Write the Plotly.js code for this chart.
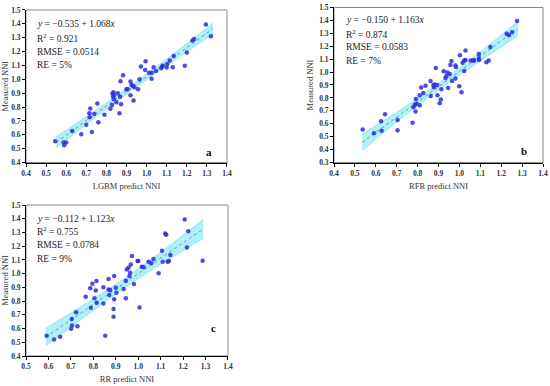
<!DOCTYPE html>
<html>
<head>
<meta charset="utf-8">
<script src="https://cdn.plot.ly/plotly-3.0.1.min.js"></script>
<style>
html,body{margin:0;padding:0;background:#fff;}
#chart{width:550px;height:386px;}
</style>
</head>
<body>
<div id="chart"></div>
<script>
// ---- Panel a (LGBM) ----
var aPredX = [0.545,0.587,0.590,0.600,0.630,0.675,0.700,0.715,0.720,0.717,0.728,0.740,0.755,0.760,0.790,0.820,0.830,0.833,0.835,0.828,0.837,0.838,0.857,0.865,0.850,0.868,0.873,0.870,0.883,0.900,0.905,0.920,0.920,0.925,0.932,0.940,0.935,0.958,0.965,0.972,0.995,0.993,1.012,1.025,1.025,1.035,1.047,1.073,1.078,1.080,1.100,1.103,1.115,1.130,1.135,1.190,1.200,1.228,1.237,1.295,1.320];
var aMeasY = [0.553,0.544,0.525,0.545,0.628,0.604,0.672,0.755,0.790,0.727,0.620,0.750,0.825,0.690,0.745,0.787,0.897,0.875,0.906,0.815,0.856,0.885,0.900,0.755,0.835,0.875,0.820,0.986,1.030,0.928,0.928,0.885,0.984,0.960,0.952,0.943,0.847,0.928,1.000,1.092,1.130,1.068,1.048,1.005,1.048,1.087,1.060,1.080,1.092,1.098,1.085,1.110,1.135,1.087,1.168,1.097,1.193,1.280,1.290,1.395,1.310];
var aLineX = [0.55,1.33];
var aLineY = [0.545,1.365];
var aBandX = [0.55,0.75,0.94,1.13,1.33];
var aBandLow = [0.505,0.730,0.935,1.130,1.325];
var aBandHigh = [0.585,0.780,0.975,1.180,1.405];
var aText = ['<i>y</i> = \u22120.535 + 1.068<i>x</i>','R<sup>2</sup> = 0.921','RMSE = 0.0514','RE = 5%'];

// ---- Panel b (RFR) ----
var bPredX = [0.537,0.591,0.625,0.628,0.644,0.704,0.704,0.776,0.780,0.787,0.792,0.790,0.795,0.810,0.817,0.810,0.827,0.838,0.862,0.863,0.875,0.878,0.882,0.887,0.894,0.895,0.911,0.906,0.914,0.925,0.933,0.938,0.943,0.946,0.954,0.957,0.962,0.965,0.981,0.981,0.984,0.999,1.002,1.010,1.015,1.023,1.023,1.029,1.029,1.054,1.066,1.070,1.093,1.093,1.094,1.129,1.140,1.148,1.226,1.237,1.252,1.276];
var bMeasY = [0.555,0.527,0.620,0.545,0.674,0.630,0.550,0.607,0.728,0.748,0.792,0.694,0.754,0.820,0.880,0.743,0.839,0.895,0.931,0.815,0.900,0.883,0.903,1.032,0.900,0.820,0.787,0.759,0.867,1.006,0.955,0.970,0.996,0.877,0.986,1.055,1.086,0.931,1.050,0.950,1.040,0.890,1.130,0.844,1.073,1.009,1.089,1.168,1.094,1.089,1.089,1.090,1.107,1.140,1.094,1.076,1.089,1.194,1.297,1.285,1.308,1.395];
var bLineX = [0.535,1.28];
var bLineY = [0.456,1.336];
var bBandX = [0.535,0.72,0.905,1.09,1.28];
var bBandLow = [0.391,0.640,0.868,1.076,1.281];
var bBandHigh = [0.521,0.710,0.918,1.146,1.391];
var bText = ['<i>y</i> = \u22120.150 + 1.163<i>x</i>','R<sup>2</sup> = 0.874','RMSE = 0.0583','RE = 7%'];

// ---- Panel c (RR) ----
var cPredX = [0.592,0.625,0.652,0.701,0.704,0.705,0.723,0.729,0.766,0.786,0.796,0.789,0.805,0.811,0.814,0.815,0.845,0.845,0.853,0.868,0.868,0.871,0.875,0.890,0.890,0.893,0.893,0.900,0.903,0.935,0.945,0.945,0.949,0.957,0.961,0.964,0.967,0.972,0.981,0.997,1.000,1.006,1.016,1.024,1.046,1.058,1.068,1.091,1.106,1.109,1.120,1.125,1.131,1.137,1.143,1.207,1.217,1.223,1.287];
var cMeasY = [0.548,0.521,0.541,0.599,0.669,0.623,0.718,0.616,0.832,0.893,0.927,0.752,0.820,0.878,0.946,0.788,0.783,0.900,0.548,0.961,0.885,0.844,0.881,0.742,0.686,0.813,0.982,0.898,0.861,0.888,0.949,0.820,1.031,1.043,0.982,1.007,1.067,1.128,0.924,1.092,1.092,0.754,1.050,1.046,1.087,1.075,1.106,1.002,1.167,1.087,1.293,1.283,1.087,1.092,1.135,1.395,1.191,1.308,1.094];
var cLineX = [0.588,1.29];
var cLineY = [0.537,1.326];
var cBandX = [0.588,0.765,0.94,1.115,1.29];
var cBandLow = [0.472,0.690,0.897,1.084,1.256];
var cBandHigh = [0.602,0.780,0.967,1.174,1.396];
var cText = ['<i>y</i> = \u22120.112 + 1.123<i>x</i>','R<sup>2</sup> = 0.755','RMSE = 0.0784','RE = 9%'];

var serif = 'Liberation Serif, Times New Roman, serif';
var bandFill = 'rgba(60,225,245,0.42)';
var bandEdge = 'rgba(40,200,230,0.6)';
var dotColor = 'rgba(45,45,225,0.85)';

function panelTraces(xa, ya, bx, blo, bhi, lx, ly, px, py){
  return [
    {x: bx, y: blo, xaxis: xa, yaxis: ya, mode: 'lines', line: {color: bandEdge, width: 0.6, shape: 'spline'}, hoverinfo: 'skip', showlegend: false},
    {x: bx, y: bhi, xaxis: xa, yaxis: ya, mode: 'lines', fill: 'tonexty', fillcolor: bandFill, line: {color: bandEdge, width: 0.6, shape: 'spline'}, hoverinfo: 'skip', showlegend: false},
    {x: lx, y: ly, xaxis: xa, yaxis: ya, mode: 'lines', line: {color: '#8a8a8a', width: 1, dash: 'dot'}, showlegend: false},
    {x: px, y: py, xaxis: xa, yaxis: ya, mode: 'markers', marker: {color: dotColor, size: 4.5}, showlegend: false}
  ];
}

var data = [].concat(
  panelTraces('x','y', aBandX, aBandLow, aBandHigh, aLineX, aLineY, aPredX, aMeasY),
  panelTraces('x2','y2', bBandX, bBandLow, bBandHigh, bLineX, bLineY, bPredX, bMeasY),
  panelTraces('x3','y3', cBandX, cBandLow, cBandHigh, cLineX, cLineY, cPredX, cMeasY)
);

function xAxis(dom, rng, title, anchor){
  return {domain: dom, range: rng, anchor: anchor, dtick: 0.1, tick0: 0.4, tickformat: '.1f',
    showline: true, linecolor: '#000', linewidth: 1, ticks: 'outside', ticklen: 3, tickcolor: '#000', tickwidth: 1,
    showgrid: false, zeroline: false,
    tickfont: {family: serif, size: 7.5, color: '#333', weight: 'bold'},
    title: {text: title, font: {family: serif, size: 8.5, color: '#333'}, standoff: 6}};
}
function yAxis(dom, rng, anchor){
  return {domain: dom, range: rng, anchor: anchor, dtick: 0.1, tick0: 0.3, tickformat: '.1f',
    showline: true, linecolor: '#000', linewidth: 1, ticks: 'outside', ticklen: 3, tickcolor: '#000', tickwidth: 1,
    showgrid: false, zeroline: false,
    tickfont: {family: serif, size: 7.5, color: '#333', weight: 'bold'},
    title: {text: 'Measured NNI', font: {family: serif, size: 8.5, color: '#333'}, standoff: 4}};
}

var annotations = [];
function addText(xref, yref, lines, x0, ys){
  for (var i = 0; i < lines.length; i++){
    annotations.push({xref: xref + ' domain', yref: yref + ' domain', x: x0, y: ys[i], xanchor: 'left', yanchor: 'middle',
      text: lines[i], showarrow: false, font: {family: serif, size: 9.5, color: '#222'}});
  }
}
addText('x','y', aText, 0.045, [0.908,0.818,0.727,0.640]);
addText('x2','y2', bText, 0.048, [0.917,0.832,0.746,0.655]);
addText('x3','y3', cText, 0.045, [0.909,0.826,0.735,0.642]);
var tags = [['x','y','a',0.91,0.069],['x2','y2','b',0.909,0.076],['x3','y3','c',0.926,0.185]];
tags.forEach(function(t){
  annotations.push({xref: t[0]+' domain', yref: t[1]+' domain', x: t[3], y: t[4], xanchor: 'center', yanchor: 'middle',
    text: '<b>'+t[2]+'</b>', showarrow: false, font: {family: serif, size: 11, color: '#111'}});
});

var shapes = [['x','y'],['x2','y2'],['x3','y3']].map(function(p){
  return {type: 'rect', xref: p[0]+' domain', yref: p[1]+' domain', x0: 0, x1: 1, y0: 0, y1: 1,
    line: {color: '#888', width: 1}, layer: 'below'};
});

var layout = {
  width: 550, height: 386,
  margin: {l: 0, r: 0, t: 0, b: 0},
  paper_bgcolor: '#fff', plot_bgcolor: '#fff',
  showlegend: false,
  xaxis: xAxis([0.0473, 0.4127], [0.4, 1.4], 'LGBM predict NNI', 'y'),
  yaxis: yAxis([0.579, 0.9741], [0.4, 1.5], 'x'),
  xaxis2: xAxis([0.6073, 0.9873], [0.4, 1.4], 'RFR predict NNI', 'y2'),
  yaxis2: yAxis([0.579, 0.9806], [0.3, 1.5], 'x2'),
  xaxis3: xAxis([0.0473, 0.4145], [0.5, 1.4], 'RR predict NNI', 'y3'),
  yaxis3: yAxis([0.0777, 0.4689], [0.4, 1.5], 'x3'),
  annotations: annotations,
  shapes: shapes
};

Plotly.newPlot('chart', data, layout, {displayModeBar: false, staticPlot: true});
</script>
</body>
</html>
